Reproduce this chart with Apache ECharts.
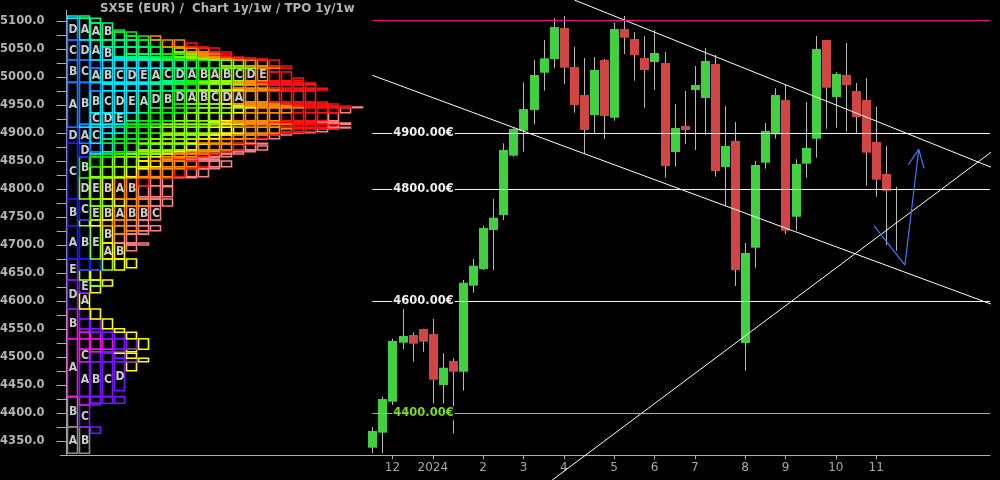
<!DOCTYPE html>
<html><head><meta charset="utf-8">
<script src="https://cdn.jsdelivr.net/npm/echarts@6/dist/echarts.min.js"></script>
<style>html,body{margin:0;padding:0;background:#000;}#c{width:1000px;height:480px;}</style>
</head><body><div id="c"></div>
<script>
// Weekly OHLC, SX5E (EUR), mid-Nov 2023 .. Nov 2024 (index = week)
const weekOpen  = [4338.6,4365.4,4420.7,4526.1,4539.8,4550.5,4541.6,4450.5,4493.4,4474.3,4627.9,4657.7,4727.3,4754.1,4860.0,4904.6,4941.6,5008.2,5032.7,5088.0,5018.4,4968.4,4932.7,5030.9,4927.9,5086.2,5068.4,5034.5,5027.3,5025.5,4866.6,4913.0,4977.3,4963.0,5023.8,4839.8,4886.3,4525.5,4695.7,4847.5,4898.2,4959.5,4751.0,4845.7,4890.4,5066.6,4964.8,5004.1,4975.5,4959.5,4884.5,4827.3,4797.5];
const weekClose = [4368.4,4425.5,4529.1,4538.0,4524.3,4527.9,4460.0,4481.4,4474.3,4633.2,4663.6,4730.9,4749.3,4870.2,4907.7,4943.4,5004.1,5033.9,5089.8,5017.1,4950.5,4905.9,5013.0,4930.9,5086.2,5070.7,5039.8,5013.0,5043.4,4841.6,4909.5,4905.9,4986.3,5029.1,4832.7,4877.3,4655.9,4686.3,4843.4,4904.1,4968.4,4726.1,4845.2,4873.8,5050.5,4981.4,5005.9,4986.3,4929.1,4865.4,4817.1,4797.5,4797.5];
const weekLow   = [4328.6,4328.6,4414.8,4514.3,4492.1,4510.0,4417.9,4417.9,4364.3,4440.4,4615.4,4655.9,4655.9,4745.2,4858.2,4867.1,4916.0,4976.1,5016.1,4988.0,4936.8,4863.0,4900.0,4889.8,4922.5,5041.6,4993.9,4945.7,4977.3,4820.7,4840.4,4880.9,4870.2,4897.0,4822.5,4770.2,4627.3,4476.1,4660.0,4836.8,4890.4,4720.0,4726.1,4820.7,4856.4,4908.2,4910.0,4902.9,4901.0,4806.4,4786.8,4700.5,4690.4];
const weekHigh  = [4375.5,4429.7,4533.2,4586.3,4544.6,4551.0,4568.4,4507.1,4498.2,4638.0,4675.5,4735.0,4782.7,4882.1,4910.7,4991.0,5030.9,5066.6,5105.4,5109.5,5054.1,5034.5,5036.2,5032.7,5097.0,5109.5,5080.9,5073.8,5084.5,5045.2,4952.3,4975.5,5020.2,5052.3,5039.8,4948.8,4920.2,4704.1,4850.5,4918.4,4980.4,4986.3,4853.6,4955.9,5073.8,5066.6,5009.5,5061.2,4989.8,4998.8,4947.0,4877.3,4804.6];
// month of each week (0 = Nov 2023 ... 12 = Nov 2024) and TPO letter of the week inside its month
const weekMonth  = [0,0,1,1,1,1,2,2,2,2,2,3,3,3,3,4,4,4,4,5,5,5,5,5,6,6,6,6,7,7,7,7,8,8,8,8,8,9,9,9,9,10,10,10,10,10,11,11,11,11,12,12,12];
const weekLetter = ['A','B','A','B','C','D','A','B','C','D','E','A','B','C','D','A','B','C','D','A','B','C','D','E','A','B','C','D','A','B','C','D','A','B','C','D','E','A','B','C','D','A','B','C','D','E','A','B','C','D','A','B','C'];
// x axis month labels (week index where each month starts)
const xTickIndex  = [2,6,11,15,19,24,28,32,37,41,46,50];
const xTickLabels = ['12','2024','2','3','4','5','6','7','8','9','10','11'];
// y axis
const yLabelValues = [4350,4400,4450,4500,4550,4600,4650,4700,4750,4800,4850,4900,4950,5000,5050,5100];
const yTickValues  = [4350,4375,4400,4425,4450,4475,4500,4525,4550,4575,4600,4625,4650,4675,4700,4725,4750,4775,4800,4825,4850,4875,4900,4925,4950,4975,5000,5025,5050,5075,5100];
// level lines and annotations (week index, price)
const levelLines = [4900,4800,4600,4400];
const resistanceLevel = 5102;
const trendUpper = [[20.06,5138.0],[62.27,4833.2]];
const trendLower = [[0,5003.6],[62.27,4589.3]];
const trendRising = [[17.86,4280.9],[62.27,4877.9]];
const arrowPath = [[49.80,4734.5],[52.86,4664.8],[54.23,4871.4]];
const arrowHead = [[53.17,4843.4],[54.23,4871.4],[54.76,4837.5]];

// palette (style)
const monthColors = ['#8c8c8c','#f010e6','#7a14ff','#1a1aff','#1e78ff','#00e8ff','#00ff80','#10f010','#8cff00','#ffff00','#ff8c00','#ff1010','#ff8080'];
const GREEN = '#40d040', RED = '#d24545', WICK = '#b8b8b8', AXIS = '#b0b0b0', FONT = 'DejaVu Sans';

// TPO profile built from the weekly ranges
function buildTPO() {
  const n = weekLow.length;
  const b = Array.from(new Set(weekLow.concat(weekHigh))).sort((a, c) => a - c);
  const open = {}; const rects = [];
  for (let j = 0; j < b.length - 1; j++) {
    const lo = b[j], hi = b[j + 1];
    let col = 0;
    for (let w = 0; w < n; w++) {
      if (weekLow[w] <= lo && weekHigh[w] >= hi) {
        const key = col + '_' + w;
        const r = open[key];
        if (r && r[2] === lo) r[2] = hi;
        else { const nr = [col, lo, hi, w]; open[key] = nr; rects.push(nr); }
        col++;
      }
    }
  }
  return rects;
}
const tpoData = buildTPO();
const candleData = weekOpen.map((o, i) => [i, o, weekClose[i], weekLow[i], weekHigh[i]]);

const yMin = 4325, yMax = 5120;
const gridTop = 10.1, gridBottom = 24.7;

const chart = echarts.init(document.getElementById('c'), null, {renderer: 'canvas'});
chart.setOption({
  backgroundColor: '#000',
  animation: false,
  title: {text: 'SX5E (EUR) /  Chart 1y/1w / TPO 1y/1w', left: 100, top: 3, padding: 0,
    textStyle: {color: '#b4b4b4', fontSize: 11.8, fontWeight: 'bold', fontFamily: FONT}},
  grid: [
    {left: 60.5, width: 303.7, top: gridTop, bottom: gridBottom, outerBoundsMode: 'none', containLabel: false},
    {left: 372.3, right: 10, top: gridTop, bottom: gridBottom, outerBoundsMode: 'none', containLabel: false},
    {left: 60.5, right: 10, top: gridTop, bottom: gridBottom, outerBoundsMode: 'none', containLabel: false}
  ],
  xAxis: [
    {gridIndex: 0, type: 'value', min: -0.52, max: 25, show: false},
    {gridIndex: 1, type: 'value', min: 0, max: 61.3,
      axisLine: {show: false}, splitLine: {show: false},
      axisTick: {show: true, customValues: xTickIndex, length: 4, lineStyle: {color: AXIS}},
      axisLabel: {show: true, customValues: xTickIndex, margin: 7, color: '#a8a8a8', fontSize: 12, fontFamily: FONT,
        formatter: v => xTickLabels[xTickIndex.indexOf(Math.round(v))] || ''}},
    {gridIndex: 2, type: 'value', min: 0, max: 1, axisLine: {show: true, lineStyle: {color: AXIS, width: 1}},
      axisTick: {show: false}, axisLabel: {show: false}, splitLine: {show: false}}
  ],
  yAxis: [
    {gridIndex: 0, type: 'value', min: yMin, max: yMax, position: 'left',
      axisLine: {show: true, lineStyle: {color: AXIS}},
      axisTick: {show: true, customValues: yTickValues, length: 10, lineStyle: {color: AXIS}},
      axisLabel: {show: true, customValues: yLabelValues, margin: 16, color: '#b4b4b4', fontSize: 11.5, fontWeight: 'bold', fontFamily: FONT,
        formatter: v => v.toFixed(1)},
      splitLine: {show: false}},
    {gridIndex: 1, type: 'value', min: yMin, max: yMax, show: false},
    {gridIndex: 2, type: 'value', min: 0, max: 1, show: false}
  ],
  series: [
    {type: 'custom', name: 'TPO', xAxisIndex: 0, yAxisIndex: 0, data: tpoData, clip: false,
      renderItem: function (params, api) {
        const col = api.value(0), lo = api.value(1), hi = api.value(2), w = api.value(3);
        const p0 = api.coord([col, hi]), p1 = api.coord([col + 0.92, lo]);
        const x = Math.round(p0[0]) + 0.5, y = p0[1];
        const wd = Math.round(p1[0] - p0[0]) - 1, h = Math.max(p1[1] - p0[1], 0.6);
        const color = monthColors[weekMonth[w]];
        const kids = [{type: 'rect', shape: {x: x, y: y, width: wd, height: h},
          style: {fill: 'none', stroke: color, lineWidth: 1.6}}];
        if (h >= 11) kids.push({type: 'text', z2: 10, style: {text: weekLetter[w], x: x + wd / 2 + 0.5, y: y + h / 2 + 0.5,
          fill: '#cccccc', font: 'bold 12px "DejaVu Sans Condensed", "DejaVu Sans"', align: 'center', verticalAlign: 'middle'}});
        return {type: 'group', children: kids};
      }},
    {type: 'custom', name: 'Candles', xAxisIndex: 1, yAxisIndex: 1, data: candleData, clip: false, z: 3,
      renderItem: function (params, api) {
        const i = api.value(0), o = api.value(1), c = api.value(2), l = api.value(3), hg = api.value(4);
        const cx = Math.round(api.coord([i, o])[0]);
        const yO = api.coord([i, o])[1], yC = api.coord([i, c])[1];
        const yL = api.coord([i, l])[1], yH = api.coord([i, hg])[1];
        const bw = Math.round(api.size([1, 0])[0] * 0.9);
        const top = Math.min(yO, yC), bh = Math.abs(yO - yC);
        return {type: 'group', children: [
          {type: 'line', shape: {x1: cx + 0.5, y1: yH, x2: cx + 0.5, y2: yL}, style: {stroke: WICK, lineWidth: 1}},
          {type: 'rect', shape: {x: cx - Math.floor(bw / 2), y: top, width: bw, height: bh},
            style: {fill: c >= o ? GREEN : RED}}
        ]};
      }},
    {type: 'line', name: 'upper', xAxisIndex: 1, yAxisIndex: 1, data: trendUpper, showSymbol: false, clip: false,
      lineStyle: {color: '#ffffff', width: 1}, z: 4,
      markLine: {silent: true, symbol: ['none', 'none'], animation: false,
        data: levelLines.map(v => ({yAxis: v,
          lineStyle: {color: v === 4400 ? '#7ddc1f' : '#f4f4f4', width: 1, type: 'solid'},
          label: {show: true, position: 'insideStart', distance: [20, 0], formatter: v.toFixed(2) + '€',
            color: v === 4400 ? '#7ddc1f' : '#f0f0f0', fontSize: 11.5, fontWeight: 'bold', fontFamily: FONT,
            backgroundColor: '#000', padding: [1, 1]}}))
          .concat([{yAxis: resistanceLevel, lineStyle: {color: '#e8108c', width: 1, type: 'solid'}, label: {show: false}}])}},
    {type: 'line', name: 'lower', xAxisIndex: 1, yAxisIndex: 1, data: trendLower, showSymbol: false, clip: false,
      lineStyle: {color: '#ffffff', width: 1}, z: 4},
    {type: 'line', name: 'rising', xAxisIndex: 1, yAxisIndex: 1, data: trendRising, showSymbol: false, clip: false,
      lineStyle: {color: '#ffffff', width: 1}, z: 4},
    {type: 'line', name: 'arrow', xAxisIndex: 1, yAxisIndex: 1, data: arrowPath, showSymbol: false, clip: false,
      lineStyle: {color: '#3d7bff', width: 1.2}, z: 5},
    {type: 'line', name: 'arrowHead', xAxisIndex: 1, yAxisIndex: 1, data: arrowHead, showSymbol: false, clip: false,
      lineStyle: {color: '#3d7bff', width: 1.2}, z: 5},
    {type: 'line', name: 'baseline', xAxisIndex: 2, yAxisIndex: 2, data: []}
  ]
});
</script></body></html>
